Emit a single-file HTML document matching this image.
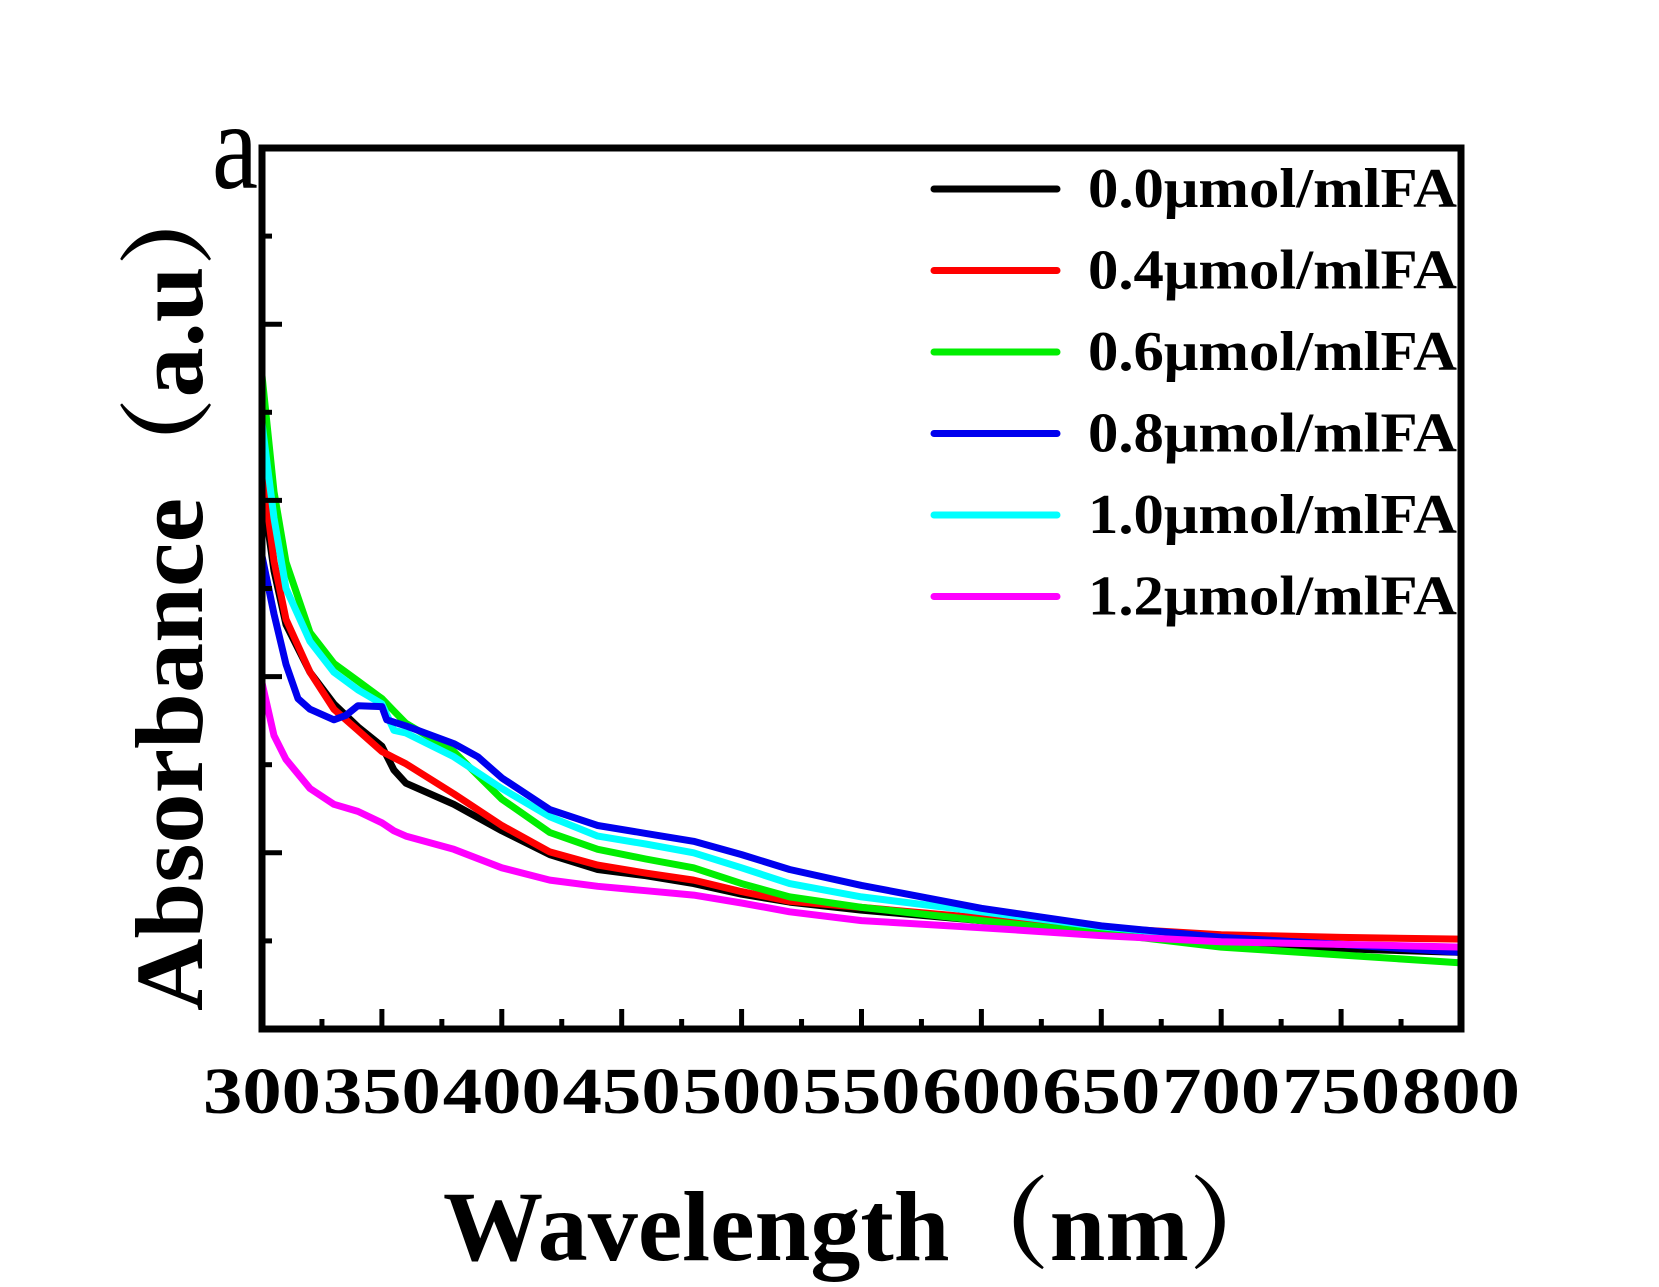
<!DOCTYPE html>
<html><head><meta charset="utf-8"><style>
html,body{margin:0;padding:0;background:#fff;}
svg{display:block;font-family:"Liberation Serif","Noto Serif CJK SC",serif;}
</style></head><body>
<svg id="chart" width="1659" height="1287" viewBox="0 0 1659 1287">
<defs><clipPath id="plotclip"><rect x="262" y="148" width="1199" height="881"/></clipPath></defs>
<g id="series" clip-path="url(#plotclip)"></g>
<g id="axes"></g>
<text x="212" y="188" font-size="125" textLength="46" lengthAdjust="spacingAndGlyphs">a</text>
<text x="443" y="1260" font-size="100" font-weight="bold" textLength="846" lengthAdjust="spacingAndGlyphs">Wavelength（nm）</text>
<text transform="translate(202,1011) rotate(-90)" x="0" y="0" font-size="96" font-weight="bold" textLength="845" lengthAdjust="spacingAndGlyphs">Absorbance（a.u）</text>
<g id="legend"></g>
</svg>
<script>
const wl = [300,305,310,320,330,340,350,355,360,380,400,420,440,460,480,500,520,550,600,650,700,750,800];
const s00 = [0.616,0.520,0.459,0.405,0.369,0.343,0.321,0.294,0.279,0.255,0.225,0.198,0.181,0.174,0.165,0.153,0.144,0.135,0.123,0.111,0.099,0.091,0.087];
const s04 = [0.640,0.531,0.465,0.405,0.363,0.339,0.315,0.308,0.301,0.267,0.231,0.201,0.186,0.177,0.169,0.156,0.145,0.138,0.126,0.115,0.107,0.104,0.102];
const s06 = [0.742,0.610,0.530,0.450,0.415,0.395,0.375,0.361,0.347,0.315,0.261,0.223,0.204,0.193,0.183,0.165,0.150,0.138,0.123,0.109,0.093,0.084,0.075];
const s10 = [0.688,0.580,0.500,0.440,0.405,0.385,0.369,0.339,0.336,0.309,0.273,0.241,0.219,0.210,0.200,0.183,0.165,0.150,0.133,0.116,0.103,0.096,0.091];
const s12 = [0.393,0.333,0.306,0.273,0.255,0.247,0.234,0.225,0.219,0.204,0.183,0.169,0.162,0.157,0.152,0.143,0.133,0.123,0.115,0.106,0.099,0.096,0.093];
const wlBlue = [300,305,310,315,320,330,335,340,350,352,360,380,390,400,420,440,460,480,500,520,550,600,650,700,750,800];
const s08 = [0.537,0.471,0.414,0.375,0.363,0.351,0.356,0.367,0.366,0.351,0.344,0.324,0.309,0.285,0.249,0.231,0.222,0.213,0.198,0.181,0.163,0.137,0.117,0.104,0.096,0.087];
const legendLabels = ["0.0μmol/mlFA","0.4μmol/mlFA","0.6μmol/mlFA","0.8μmol/mlFA","1.0μmol/mlFA","1.2μmol/mlFA"];
const colors = ["#000000","#ff0000","#00ee00","#0000ee","#00ffff","#ff00ff"];
const xTicks = [300,350,400,450,500,550,600,650,700,750,800];

const L=262,R=1461,T=148,B=1029;
const xMin=300,xMax=800,yMin=0,yMax=1.0;
const xs=v=>L+(v-xMin)/(xMax-xMin)*(R-L);
const ys=v=>B-(v-yMin)/(yMax-yMin)*(B-T);
const NS="http://www.w3.org/2000/svg";
const seriesList=[[wl,s00],[wl,s04],[wl,s06],[wlBlue,s08],[wl,s10],[wl,s12]];
const sg=document.getElementById('series');
const drawOrder=[0,1,2,4,3,5];
drawOrder.forEach(i=>{
  const [xarr,yarr]=seriesList[i];
  const p=document.createElementNS(NS,'path');
  p.setAttribute('d',xarr.map((x,k)=>(k?'L':'M')+xs(x).toFixed(1)+','+ys(yarr[k]).toFixed(1)).join(' '));
  p.setAttribute('fill','none');p.setAttribute('stroke',colors[i]);p.setAttribute('stroke-width','7');
  p.setAttribute('stroke-linejoin','round');
  
  
  sg.appendChild(p);
});
const ag=document.getElementById('axes');
function mk(tag,attrs){const e=document.createElementNS(NS,tag);for(const k in attrs)e.setAttribute(k,attrs[k]);ag.appendChild(e);return e;}
const frame=mk('rect',{x:L,y:T,width:R-L,height:B-T,fill:'none',stroke:'#000','stroke-width':7});


for(let v=300;v<=800;v+=25){
  const major=v%50===0;
  const t=mk('line',{x1:xs(v),x2:xs(v),y1:B,y2:B-(major?20:10),stroke:'#000','stroke-width':5});
  
  
}
xTicks.forEach(v=>{
  const t=mk('text',{x:xs(v)-59,y:1113,'font-size':66,'font-weight':'bold',textLength:118,lengthAdjust:'spacingAndGlyphs'});
  t.textContent=String(v);
  
  
});
for(let k=1;k<10;k++){
  const v=k*0.1;const major=k%2===0;
  const t=mk('line',{x1:L,x2:L+(major?20:10),y1:ys(v),y2:ys(v),stroke:'#000','stroke-width':5});
  
  
}
const lg=document.getElementById('legend');
legendLabels.forEach((lab,i)=>{
  const y=189+i*81.5;
  const ln=document.createElementNS(NS,'line');
  ln.setAttribute('x1',934);ln.setAttribute('x2',1057);ln.setAttribute('y1',y);ln.setAttribute('y2',y);
  ln.setAttribute('stroke',colors[i]);ln.setAttribute('stroke-width',7);ln.setAttribute('stroke-linecap','round');
  
  
  lg.appendChild(ln);
  const tx=document.createElementNS(NS,'text');
  tx.setAttribute('x',1088);tx.setAttribute('y',y+18);tx.setAttribute('font-size',56);tx.setAttribute('font-weight','bold');
  tx.setAttribute('textLength',369);tx.setAttribute('lengthAdjust','spacingAndGlyphs');
  tx.textContent=lab;
  
  
  lg.appendChild(tx);
});
</script>
</body></html>
